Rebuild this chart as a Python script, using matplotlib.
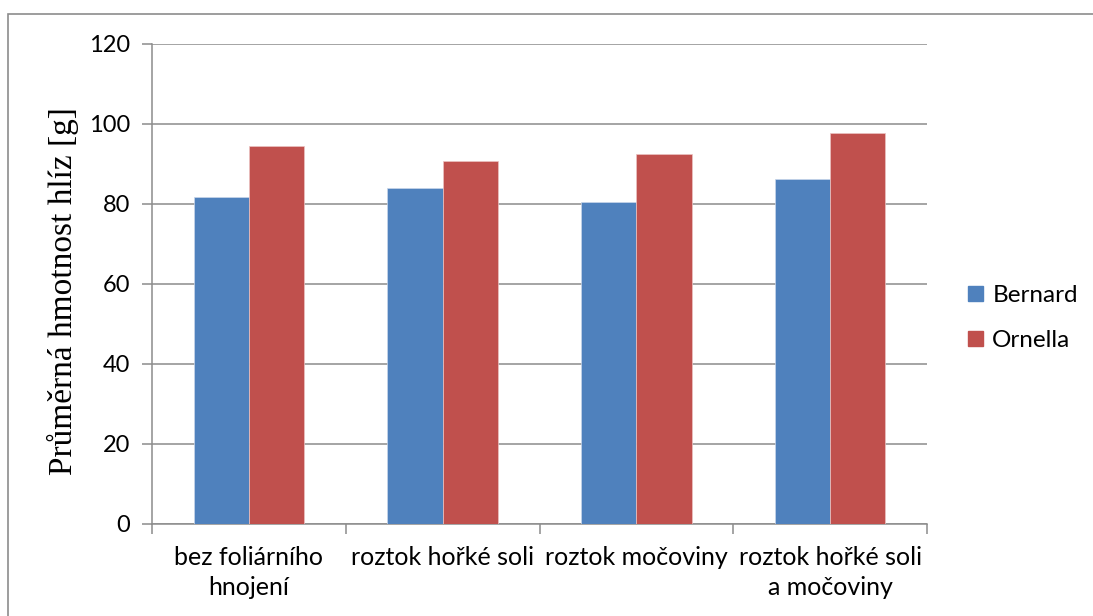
import numpy as np
import matplotlib
matplotlib.use("Agg")
import matplotlib.pyplot as plt
from matplotlib.patches import Rectangle, Patch

categories = ["bez foliárního\nhnojení", "roztok hořké soli", "roztok močoviny",
              "roztok hořké soli\na močoviny"]
bernard = [81.7, 84.0, 80.5, 86.3]
ornella = [94.6, 90.8, 92.4, 97.7]
yticks = [0, 20, 40, 60, 80, 100, 120]

BLUE = "#4F81BD"
RED = "#C0504D"
GRID = "#8C8C8C"

plt.rcParams["font.family"] = ["Lato", "DejaVu Sans"]

fig = plt.figure(figsize=(10.93, 6.16), dpi=100)
ax = fig.add_axes([152 / 1093, 1 - 524 / 616, (927 - 152) / 1093, (524 - 44) / 616])

# outer chart frame (cut off at right and bottom like the source)
fig.patches.append(Rectangle((8 / 1093, -0.05), 1.2, 1 - 14 / 616 + 0.05,
                             transform=fig.transFigure, fill=False,
                             edgecolor=GRID, linewidth=1.2))

x = np.arange(len(categories))
w = 1 / 3.5
ax.bar(x - w / 2, bernard, w, color=BLUE, edgecolor="#c9d6ea", linewidth=0.5,
       label="Bernard", zorder=3)
ax.bar(x + w / 2, ornella, w, color=RED, edgecolor="#ebc3c2", linewidth=0.5,
       label="Ornella", zorder=3)

ax.set_xlim(-0.5, len(categories) - 0.5)
ax.set_ylim(0, 120)
ax.set_yticks(yticks)
ax.yaxis.grid(True, color=GRID, linewidth=1.1, zorder=0)
ax.set_axisbelow(True)

ax.set_xticks(x)
ax.set_xticklabels(categories, fontsize=18, linespacing=1.35)
ax.set_xticks(np.arange(len(categories) + 1) - 0.5, minor=True)
ax.tick_params(axis="x", which="major", length=0, pad=16)
ax.tick_params(axis="x", which="minor", length=7, width=1.1, color=GRID)
ax.tick_params(axis="y", length=7, width=1.1, color=GRID, labelsize=17, pad=9)

for s in ("top", "right"):
    ax.spines[s].set_visible(False)
for s in ("left", "bottom"):
    ax.spines[s].set_color(GRID)
    ax.spines[s].set_linewidth(1.1)

ax.set_ylabel("Průměrná hmotnost hlíz [g]", family="Liberation Serif", fontsize=24)
ax.yaxis.set_label_coords(-0.094, 0.485)

handles = [Patch(color=BLUE, label="Bernard"), Patch(color=RED, label="Ornella")]
fig.legend(handles=handles, loc="center left", bbox_to_anchor=(968 / 1093, 1 - 318 / 616),
           frameon=False, fontsize=17.5, handlelength=0.6, handleheight=0.6,
           handletextpad=0.4, labelspacing=1.0, borderpad=0, borderaxespad=0)

fig.savefig("out.png", dpi=100)
